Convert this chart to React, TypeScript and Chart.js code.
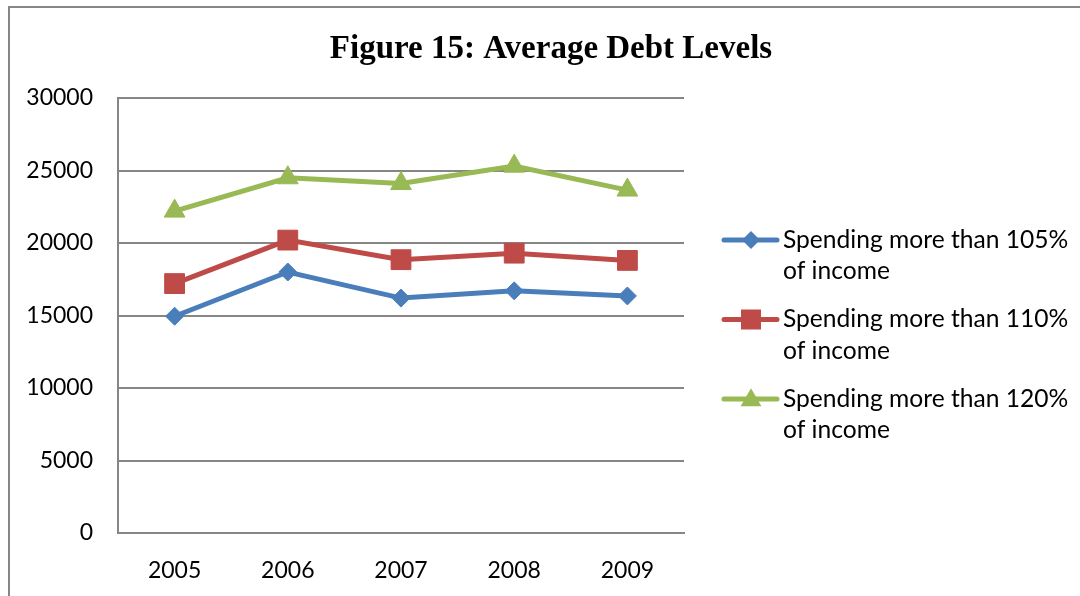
import React, { useEffect, useRef } from "react";
import { Chart, registerables } from "chart.js";

Chart.register(...registerables);

const categories = ["2005", "2006", "2007", "2008", "2009"];
const series105 = [14950, 18000, 16200, 16700, 16350];
const series110 = [17200, 20200, 18850, 19300, 18800];
const series120 = [22200, 24500, 24100, 25300, 23650];
const seriesLabels = [
  ["Spending more than 105%", "of income"],
  ["Spending more than 110%", "of income"],
  ["Spending more than 120%", "of income"],
];
const seriesColors = ["#4A7EBB", "#BE4B48", "#98B954"];
const yMin = 0;
const yMax = 30000;
const yStep = 5000;
const titleText = "Figure 15: Average Debt Levels";

const W = 1080;
const H = 596;
const PLOT = { left: 118, right: 684, top: 98, bottom: 533 };
const TICK_FONT = "Lato";

function drawMarker(ctx: CanvasRenderingContext2D, style: string, x: number, y: number, color: string) {
  ctx.save();
  ctx.fillStyle = color;
  ctx.beginPath();
  if (style === "rectRot") {
    const r = 9;
    ctx.moveTo(x - r, y);
    ctx.lineTo(x, y - r);
    ctx.lineTo(x + r, y);
    ctx.lineTo(x, y + r);
  } else if (style === "rect") {
    const s = 10;
    ctx.rect(x - s, y - s, 2 * s, 2 * s);
  } else {
    const r = 12;
    ctx.moveTo(x, y - r * 0.9);
    ctx.lineTo(x + r * 0.866, y + r * 0.6);
    ctx.lineTo(x - r * 0.866, y + r * 0.6);
  }
  ctx.closePath();
  ctx.fill();
  ctx.restore();
}

const pointStyles = ["rectRot", "rect", "triangle"];

const decorPlugin = {
  id: "decor",
  afterDraw(chart: any) {
    const ctx: CanvasRenderingContext2D = chart.ctx;
    ctx.save();
    // outer border
    ctx.strokeStyle = "#868686";
    ctx.lineWidth = 2;
    ctx.strokeRect(9, 7, 1100, 620);
    // title
    ctx.fillStyle = "#000";
    ctx.font = "bold 33px 'Liberation Serif'";
    ctx.textAlign = "center";
    ctx.textBaseline = "alphabetic";
    ctx.fillText(titleText, 551, 58);
    // legend
    ctx.font = `24.6px ${TICK_FONT}`;
    ctx.textAlign = "left";
    ctx.textBaseline = "middle";
    const ds = chart.data.datasets;
    for (let i = 0; i < ds.length; i++) {
      const y0 = 240 + i * 79.5;
      const color = ds[i].borderColor;
      ctx.strokeStyle = color;
      ctx.lineWidth = 5;
      ctx.lineCap = "round";
      ctx.beginPath();
      ctx.moveTo(724, y0);
      ctx.lineTo(777, y0);
      ctx.stroke();
      drawMarker(ctx, pointStyles[i], 751, y0, color);
      ctx.fillStyle = "#000";
      const lines = seriesLabels[i];
      for (let j = 0; j < lines.length; j++) {
        ctx.fillText(lines[j], 783, y0 + j * 31.5);
      }
    }
    ctx.restore();
  },
};

export default function App() {
  const ref = useRef<HTMLCanvasElement | null>(null);
  useEffect(() => {
    if (!ref.current) return;
    const dataArrays = [series105, series110, series120];
    const radii = [9, 14, 12];
    const chart = new Chart(ref.current, {
      type: "line",
      data: {
        labels: categories,
        datasets: dataArrays.map((d, i) => ({
          label: seriesLabels[i].join(" "),
          data: d,
          borderColor: seriesColors[i],
          backgroundColor: seriesColors[i],
          borderWidth: 5,
          pointStyle: pointStyles[i] as any,
          pointRadius: radii[i],
          pointBorderWidth: 1,
          pointBorderColor: seriesColors[i],
          pointBackgroundColor: seriesColors[i],
          tension: 0,
          fill: false,
        })),
      },
      options: {
        responsive: false,
        animation: false,
        layout: {
          padding: { left: 0, top: PLOT.top, right: W - PLOT.right, bottom: 0 },
        },
        plugins: {
          legend: { display: false },
          title: { display: false },
          tooltip: { enabled: false },
        },
        scales: {
          x: {
            offset: true,
            grid: { display: false, drawTicks: false },
            border: { display: true, color: "#868686", width: 2 },
            ticks: {
              color: "#000",
              font: { family: TICK_FONT, size: 23 },
              padding: 24,
              maxRotation: 0,
            },
            afterFit: (s: any) => {
              s.height = H - PLOT.bottom;
            },
          },
          y: {
            min: yMin,
            max: yMax,
            grid: { color: "#868686", lineWidth: 2, drawTicks: false },
            border: { display: true, color: "#868686", width: 2 },
            ticks: {
              stepSize: yStep,
              color: "#000",
              font: { family: TICK_FONT, size: 23 },
              padding: 25,
              callback: (v: any) => String(v),
            },
            afterFit: (s: any) => {
              s.width = PLOT.left;
            },
          },
        },
      },
      plugins: [decorPlugin],
    });
    return () => chart.destroy();
  }, []);
  return (
    <div style={{ position: "fixed", left: 0, top: 0, width: W, height: H, background: "#fff" }}>
      <canvas ref={ref} width={W} height={H} style={{ display: "block", width: W, height: H }} />
    </div>
  );
}
